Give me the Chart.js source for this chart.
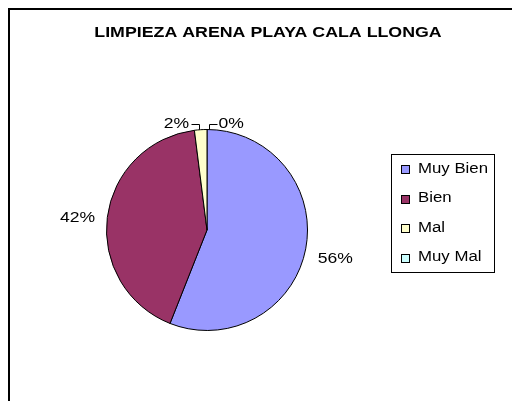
<!DOCTYPE html>
<html>
<head>
<meta charset="utf-8">
<script src="https://cdn.jsdelivr.net/npm/chart.js@4.4.1/dist/chart.umd.min.js"></script>
<style>
  html, body { margin: 0; padding: 0; background: #fff; overflow: hidden; }
  #wrap { position: relative; width: 512px; height: 401px; }
  #frame { position: absolute; left: 8px; top: 8px; width: 600px; height: 500px;
           border-left: 2px solid #000; border-top: 2px solid #000; }
  canvas { position: absolute; left: 0; top: 0; }
</style>
</head>
<body>
<div id="wrap">
  <div id="frame"></div>
  <canvas id="pie" width="512" height="401"></canvas>
</div>
<script>
// data
var categories = ['Muy Bien', 'Bien', 'Mal', 'Muy Mal']
var values = [56, 42, 2, 0]
var colors = ['#9999FF', '#993366', '#FFFFCC', '#CCFFFF']
var chartTitle = 'LIMPIEZA ARENA PLAYA CALA LLONGA'

// draws text squeezed/stretched horizontally like the original picture
function drawText (ctx, text, x, y, sx, align) {
  ctx.save()
  ctx.translate(x, y)
  ctx.scale(sx, 1)
  ctx.textAlign = align
  ctx.textBaseline = 'middle'
  ctx.fillText(text, 0, 0)
  ctx.restore()
}

var extrasPlugin = {
  id: 'extras',
  afterDraw: function (chart) {
    var ctx = chart.ctx
    var total = values.reduce(function (a, b) { return a + b }, 0)
    ctx.fillStyle = '#000'
    ctx.strokeStyle = '#000'

    // title
    ctx.font = 'bold 14px "Liberation Sans", Arial, sans-serif'
    drawText(ctx, chartTitle, 268, 33, 1.27, 'center')

    // percentage labels
    ctx.font = '15px "Liberation Sans", Arial, sans-serif'
    var arcs = chart.getDatasetMeta(0).data
    arcs.forEach(function (arc, i) {
      var p = arc.getProps(['x', 'y', 'startAngle', 'endAngle', 'outerRadius'], true)
      var mid = (p.startAngle + p.endAngle) / 2
      var pct = Math.round(values[i] / total * 100) + '%'
      if (values[i] / total >= 0.05) {
        var r = p.outerRadius + 30
        drawText(ctx, pct, p.x + Math.cos(mid) * r, p.y + Math.sin(mid) * r + 4, 1.17, 'center')
      } else {
        // small slice: leader line above the pie
        var ex = p.x + Math.cos(mid) * p.outerRadius
        var ey = p.y + Math.sin(mid) * p.outerRadius
        var dir = ex > p.x - 0.5 ? 1 : -1
        var lx = ex + dir * 1.5
        var top = ey - 6
        ctx.lineWidth = 1
        ctx.beginPath()
        ctx.moveTo(Math.round(lx) + 0.5, ey)
        ctx.lineTo(Math.round(lx) + 0.5, Math.round(top) + 0.5)
        ctx.lineTo(Math.round(lx + dir * 8) + 0.5, Math.round(top) + 0.5)
        ctx.stroke()
        drawText(ctx, pct, lx + dir * 10, top, 1.17, dir > 0 ? 'left' : 'right')
      }
    })

    // legend box
    var bx = 391, by = 154, bw = 103, bh = 118
    ctx.lineWidth = 1
    ctx.strokeRect(bx + 0.5, by + 0.5, bw, bh)
    ctx.font = '14px "Liberation Sans", Arial, sans-serif'
    categories.forEach(function (c, i) {
      var cy = by + 15 + i * 29.5
      ctx.fillStyle = colors[i]
      ctx.fillRect(bx + 10, Math.round(cy - 4), 8, 8)
      ctx.strokeStyle = '#000'
      ctx.strokeRect(bx + 10.5, Math.round(cy - 4) + 0.5, 8, 8)
      ctx.fillStyle = '#000'
      drawText(ctx, c, bx + 27, cy, 1.2, 'left')
    })
  }
}

var myPie = new Chart(document.getElementById('pie').getContext('2d'), {
  type: 'pie',
  data: {
    labels: categories,
    datasets: [{
      data: values,
      backgroundColor: colors,
      borderColor: '#000',
      borderWidth: 1
    }]
  },
  options: {
    responsive: false,
    animation: false,
    events: [],
    layout: { padding: { left: 106, right: 204, top: 129, bottom: 70 } },
    plugins: {
      legend: { display: false },
      title: { display: false },
      tooltip: { enabled: false }
    }
  },
  plugins: [extrasPlugin]
})
</script>
</body>
</html>
